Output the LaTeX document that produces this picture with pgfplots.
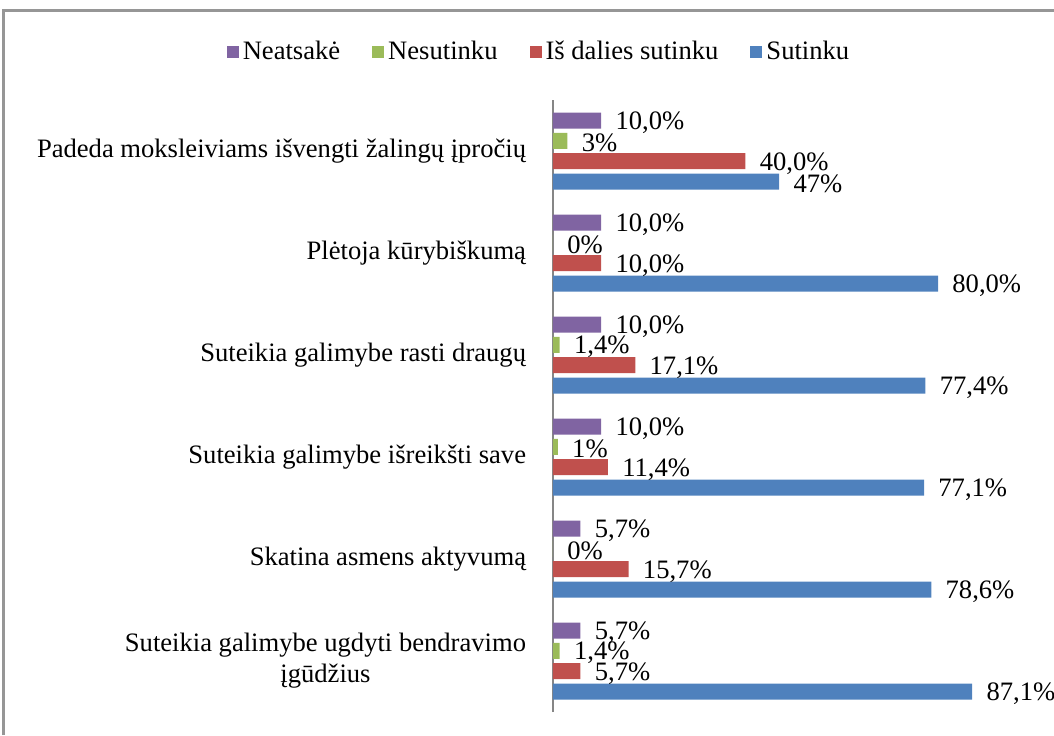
\documentclass[border=0pt]{standalone}
\usepackage{fontspec}
\setmainfont{Liberation Serif}
\usepackage{pgfplots}
\pgfplotsset{compat=1.18}
\definecolor{cPurple}{HTML}{8064A2}
\definecolor{cGreen}{HTML}{9BBB59}
\definecolor{cRed}{HTML}{C0504D}
\definecolor{cBlue}{HTML}{4F81BD}
\definecolor{cFrame}{RGB}{150,150,150}
\definecolor{cAxis}{RGB}{134,134,134}
\begin{document}
\fontsize{13.3}{15.6}\selectfont
\begin{tikzpicture}
\path[use as bounding box] (-276.5pt,-11.5pt) rectangle (250.5pt,356pt);
\draw[cFrame, line width=1.5pt] (-274.5pt,-11.5pt) -- (-274.5pt,350.5pt) -- (250.5pt,350.5pt);
\begin{axis}[
  at={(0,0)}, anchor=south west,
  scale only axis,
  width=240.625pt, height=306pt,
  xmin=0, xmax=100,
  ymin=-0.5, ymax=5.5,
  clip=false,
  xbar,
  bar width=8pt,
  axis x line=none,
  axis y line*=left,
  y axis line style={cAxis, line width=1pt, -},
  ytick={0,1,2,3,4,5},
  yticklabels={{Suteikia galimybe ugdyti bendravimo\\įgūdžius},
               {Skatina asmens aktyvumą},
               {Suteikia galimybe išreikšti save},
               {Suteikia galimybe rasti draugų},
               {Plėtoja kūrybiškumą},
               {Padeda moksleiviams išvengti žalingų įpročių}},
  y tick style={draw=none},
  y tick label style={font=\fontsize{13.3}{15.6}\selectfont, align=center, inner sep=0pt, xshift=-9pt},
  nodes near coords,
  point meta=explicit symbolic,
  every node near coord/.append style={font=\fontsize{13.3}{15.6}\selectfont, anchor=west, inner sep=0pt, xshift=7pt, yshift=-1pt, color=black},
  legend style={at={(-0.027,1.078)}, anchor=center, draw=none, fill=none,
    legend columns=4, font=\fontsize{13.3}{15.6}\selectfont,
    /tikz/every even column/.append style={column sep=14pt}},
  legend cell align=left,
  legend image code/.code={\fill[#1,draw=none] (0pt,-3pt) rectangle (6pt,3pt);},
]
\addplot[fill=cPurple, draw=none, bar shift=15.25pt] coordinates {
  (10,5) [10,0\%] (10,4) [10,0\%] (10,3) [10,0\%] (10,2) [10,0\%] (5.7,1) [5,7\%] (5.7,0) [5,7\%]};
\addplot[fill=cGreen, draw=none, bar shift=5.1pt] coordinates {
  (3,5) [3\%] (0,4) [0\%] (1.4,3) [1,4\%] (1,2) [1\%] (0,1) [0\%] (1.4,0) [1,4\%]};
\addplot[fill=cRed, draw=none, bar shift=-5.1pt] coordinates {
  (40,5) [40,0\%] (10,4) [10,0\%] (17.1,3) [17,1\%] (11.4,2) [11,4\%] (15.7,1) [15,7\%] (5.7,0) [5,7\%]};
\addplot[fill=cBlue, draw=none, bar shift=-15.25pt] coordinates {
  (47,5) [47\%] (80,4) [80,0\%] (77.4,3) [77,4\%] (77.1,2) [77,1\%] (78.6,1) [78,6\%] (87.1,0) [87,1\%]};
\legend{Neatsakė, Nesutinku, Iš dalies sutinku, Sutinku}
\end{axis}
\end{tikzpicture}
\end{document}
